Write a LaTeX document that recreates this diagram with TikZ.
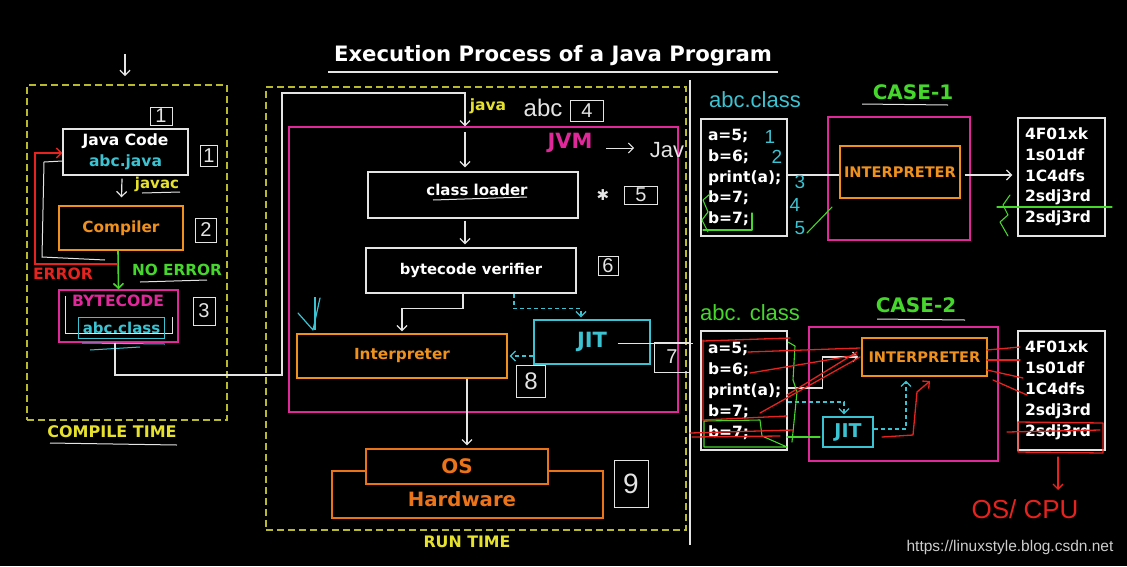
\documentclass[tikz,border=0pt]{standalone}
\usepackage{fontspec}
\setmainfont{DejaVu Sans}
\newfontfamily\hand{Liberation Sans}
\usetikzlibrary{arrows.meta,calc}
\definecolor{jorange}{RGB}{240,145,30}
\definecolor{jhw}{RGB}{235,115,25}
\definecolor{jmag}{RGB}{225,40,155}
\definecolor{jcyan}{RGB}{60,195,210}
\definecolor{jyel}{RGB}{230,225,45}
\definecolor{jdash}{RGB}{185,185,45}
\definecolor{jgreen}{RGB}{70,215,45}
\definecolor{jred}{RGB}{230,35,30}
\definecolor{jwhite}{RGB}{228,228,228}
\definecolor{jgray}{RGB}{205,205,205}
\newcommand\myfs[1]{\fontsize{#1}{#1}\selectfont}
\newcommand\myfsl[2]{\fontsize{#1}{#2}\selectfont}
\tikzset{
 bx/.style={draw=#1, line width=1.4pt, inner sep=0pt, fill=black},
 lbl/.style={font=\bfseries\myfs{#1}, inner sep=0pt},
 hw/.style={font=\hand\myfs{#1}, inner sep=0pt},
 numbox/.style={draw=jwhite, line width=0.9pt, inner sep=0pt, text=jwhite, font=\hand\myfs{20}},
 dbox/.style={draw=jdash, line width=1.3pt, dash pattern=on 7pt off 4pt, inner sep=0pt},
 tip/.style={-{Straight Barb[length=5pt,width=10pt]}},
 wline/.style={draw=jwhite, line width=1.2pt},
 cline/.style={draw=jcyan, line width=1.2pt, dash pattern=on 4pt off 3pt},
 rscrib/.style={draw=jred, line width=1.3pt, line cap=round, line join=round},
 gscrib/.style={draw=jgreen, line width=1.1pt, line cap=round, line join=round},
}
\begin{document}
\begin{tikzpicture}[x=1pt,y=-1pt]
\useasboundingbox (0,0) rectangle (1127,566);
\fill[black] (0,0) rectangle (1127,566);

% ---------- title
\node[lbl=21.2, text=white] (title) at (553,56) {Execution Process of a Java Program};
\coordinate (tul) at (328,72); \coordinate (tur) at (778,72);
\draw[wline] (tul) -- (tur);

% top arrow
\coordinate (ta) at (125,54); \coordinate (tb) at (125,76);
\draw[wline,tip] (ta) -- (tb);

% ---------- compile time
\node[dbox, minimum width=200, minimum height=335] (ct) at (127,252.5) {};
\node[lbl=16, text=jyel] (ctl) at (112,432) {COMPILE TIME};
\draw[wline, line width=1pt] (50,443) -- (177,445);

\node[bx=jwhite, minimum width=125, minimum height=46, align=center,
      font=\bfseries\myfsl{15.5}{21}] (java) at (125.5,152)
      {\textcolor{white}{Java Code}\\\textcolor{jcyan}{abc.java}};
\node[numbox, minimum width=22, minimum height=18] (n1a) at (161,116) {1};
\node[numbox, minimum width=17, minimum height=21] (n1) at (209,156) {1};

\node[lbl=15, text=jyel] (javac) at (157,184) {javac};
\draw[wline, line width=1pt] (142,193) -- (180,192);

\node[bx=jorange, minimum width=124, minimum height=44, lbl=15.3, text=jorange] (comp) at (121,228) {Compiler};
\node[numbox, minimum width=21, minimum height=24] (n2) at (206,230) {2};

\draw[wline,tip] ([xshift=-3.5pt,yshift=-3pt]java.south) -- ([xshift=0.5pt,yshift=8pt]comp.north);

% bytecode box
\node[bx=jmag, line width=1.2pt, minimum width=119, minimum height=52] (bcbox) at (118.5,316) {};
\draw[wline, line width=1pt] (65,296) -- (65,333) -- (172,333) -- (172,317);
\node[lbl=15.6, text=jmag] (bct) at (118,301) {BYTECODE};
\node[draw=jcyan, line width=1pt, minimum width=86, minimum height=21, lbl=15, text=jcyan] (abcc) at (121.5,328) {abc.class};
\draw[draw=jcyan, line width=1pt] (82,343) -- (165,344);
\draw[draw=jcyan, line width=1pt] (90,350) -- (140,347);
\node[numbox, minimum width=22, minimum height=28] (n3) at (204,311) {3};

\draw[draw=jgreen, line width=1.6pt, tip] ([xshift=-3pt]comp.south) -- (bcbox.north);
\node[lbl=15.3, text=jgreen] (noerr) at (177,270) {NO ERROR};
\draw[wline, line width=1pt] (140,282) -- (207,280);

\coordinate (errs) at (118,264);
\draw[draw=jred, line width=1.3pt, tip] (errs) -- (35,264) |- ([yshift=-1pt]java.west);
\coordinate (wes) at (105,260);
\draw[wline, line width=1pt] (wes) -- (42,257) -- (44,162) -- ([yshift=-9pt]java.west);
\node[lbl=15.6, text=jred] (err) at (63,274) {ERROR};

% ---------- run time
\node[dbox, minimum width=420, minimum height=443] (rt) at (476,308.5) {};
\node[lbl=15.8, text=jyel] (rtl) at (467,542) {RUN TIME};

\node[bx=jmag, fill=none, line width=1.2pt, minimum width=389, minimum height=285] (jvm) at (483.5,269.5) {};
\node[lbl=21, text=jmag] (jvml) at (570,143) {JVM};
\coordinate (ja1) at (606,148); \coordinate (ja2) at (634,148);
\draw[wline, line width=1pt, tip] (ja1) -- (ja2);
\node[hw=22, text=jwhite] (jav) at (667,150) {Jav};

\coordinate (jtop) at (465,93);
\draw[wline,tip] ([xshift=-3.5pt]bcbox.south) -- (115,375) -- (282,375) -- (282,93) -- (jtop) -- (jtop |- jvm.north);
\node[lbl=15.5, text=jyel] (javal) at (488,106) {java};
\node[hw=24, text=jwhite] (abcl) at (543,108) {abc};
\node[numbox, minimum width=33, minimum height=21] (n4) at (587,111) {4};

\node[bx=jwhite, minimum width=210, minimum height=46] (cl) at (473,195) {};
\node[lbl=15, text=white] (clt) at (477,190) {class loader};
\draw[wline, line width=1pt] (433,200) -- (527,197);
\node[font=\myfs{15}, text=jwhite, inner sep=0pt] (star) at (603,195) {✱};
\node[numbox, minimum width=33, minimum height=18] (n5) at (641,195) {5};

\node[bx=jwhite, minimum width=210, minimum height=45, lbl=14.8, text=white] (verifier) at (471,270.5) {bytecode verifier};
\node[numbox, minimum width=20, minimum height=19] (n6) at (608,266) {6};

\coordinate (a1) at (465,132);
\draw[wline,tip,shorten >=4pt] (a1) -- (a1 |- cl.north);
\draw[wline,tip,shorten >=3pt] ([xshift=-8pt,yshift=-2pt]cl.south) -- ([xshift=-6pt]verifier.north);

\node[bx=jorange, minimum width=210, minimum height=44, lbl=15.3, text=jorange] (interp) at (402,356) {Interpreter};
\node[bx=jcyan, minimum width=116, minimum height=44, lbl=21, text=jcyan] (jit) at (592,342) {JIT};
\node[numbox, minimum width=35, minimum height=30] (n7) at (672,357) {7};
\node[numbox, minimum width=29, minimum height=32, font=\hand\myfs{24}] (n8) at (531,381) {8};

\draw[wline,tip,shorten >=2pt] ([xshift=-8pt]verifier.south) -- ++(0,15) -| (interp.north);
\draw[cline,tip,shorten >=2pt] ([xshift=43pt]verifier.south) -- ++(0,15) -| ([xshift=-11pt]jit.north);
\draw[cline,tip,shorten >=2pt] (jit.west |- interp.east) -- (interp.east);
\draw[wline, line width=1pt] ([xshift=-33pt,yshift=-1pt]jit.east) -- (693,343);

\draw[draw=jcyan, line width=1.2pt, line cap=round, line join=round] (298,313) -- (313,330) -- (320,298);
\draw[draw=jcyan, line width=1.2pt] (315,297) -- (315,330);

\node[bx=jhw, line width=1.2pt, minimum width=271, minimum height=47] (hwbox) at (467.5,494.5) {};
\node[bx=jhw, line width=1.2pt, minimum width=182, minimum height=35, lbl=20, text=jhw] (os) at (457,466.5) {OS};
\node[lbl=19.7, text=jhw] (hwl) at (462,499) {Hardware};
\node[numbox, minimum width=34, minimum height=47, font=\hand\myfs{28}] (n9) at (631,484) {9};

\coordinate (ia) at (467,379);
\draw[wline,tip,shorten >=3pt] (ia) -- (ia |- os.north);

% divider
\coordinate (dv1) at (690,80); \coordinate (dv2) at (690,545);
\draw[wline, line width=1.5pt] (dv1) -- (dv2);

% ---------- CASE-1
\node[hw=22, text=jcyan] (c1abc) at (755,100) {abc.class};
\node[lbl=20, text=jgreen] (case1) at (913,92) {CASE-1};
\draw[wline, line width=1pt] (862,104) -- (948,105);

\node[bx=jwhite, minimum height=117, text width=72, inner xsep=7pt, align=left,
      font=\bfseries\myfsl{15.5}{20.7}, text=white] (c1code) at (744,177.5)
      {a=5;\\b=6;\\print(a);\\b=7;\\b=7;};
\node[bx=jmag, fill=none, line width=1.2pt, minimum width=142, minimum height=123] (c1mag) at (899,178.5) {};
\node[bx=jorange, line width=1.2pt, minimum width=120, minimum height=52, lbl=14.6, text=jorange] (c1int) at (900,172) {INTERPRETER};
\node[bx=jwhite, minimum height=118, text width=73, inner xsep=7pt, align=left,
      font=\bfseries\myfsl{15.5}{20.7}, text=white] (c1out) at (1061.5,177)
      {4F01xk\\1s01df\\1C4dfs\\2sdj3rd\\2sdj3rd};

\draw[wline] ([yshift=2.5pt]c1code.east) -- ([yshift=-3pt]c1int.west);
\draw[wline,tip] ([xshift=4pt,yshift=-3pt]c1int.east) -- ([xshift=-5pt,yshift=2pt]c1out.west);

\node[hw=19, text=jcyan] (k1) at (770,137) {1};
\node[hw=19, text=jcyan] (k2) at (777,157) {2};
\node[hw=19, text=jcyan] (k3) at (800,182) {3};
\node[hw=19, text=jcyan] (k4) at (795,205) {4};
\node[hw=19, text=jcyan] (k5) at (800,228) {5};

\draw[gscrib] (703,230) -- (752,230) -- (752,213);
\draw[gscrib] (710,194) -- (703,200) -- (708,212) -- (702,220) -- (708,232);
\draw[gscrib] (807,233) -- (832,207);
\draw[gscrib] (997,207) -- (1112,207);
\draw[gscrib] (1010,195) -- (1003,205) -- (1008,215) -- (1000,222) -- (1008,236);

% ---------- CASE-2
\node[hw=22, text=jgreen] (c2abc) at (750,313) {abc. class};
\node[lbl=20, text=jgreen] (case2) at (916,305) {CASE-2};
\draw[wline, line width=1pt] (877,319) -- (965,320);

\node[bx=jwhite, minimum height=119, text width=72, inner xsep=7pt, align=left,
      font=\bfseries\myfsl{15.5}{21}, text=white] (c2code) at (744,390.5)
      {a=5;\\b=6;\\print(a);\\b=7;\\b=7;};
\node[bx=jmag, fill=none, line width=1.2pt, minimum width=189, minimum height=134] (c2mag) at (903.5,394) {};
\node[bx=jorange, line width=1.2pt, minimum width=125, minimum height=38, lbl=14.6, text=jorange] (c2int) at (924.5,357) {INTERPRETER};
\node[bx=jcyan, line width=1.2pt, minimum width=50, minimum height=30, lbl=19, text=jcyan] (c2jit) at (848,432) {JIT};
\node[bx=jwhite, minimum height=119, text width=73, inner xsep=7pt, align=left,
      font=\bfseries\myfsl{15.5}{21}, text=white] (c2out) at (1061.5,390.5)
      {4F01xk\\1s01df\\1C4dfs\\2sdj3rd\\2sdj3rd};

\draw[wline,tip,shorten >=3pt] ([yshift=2.5pt]c2code.east) -- ++(35,0) |- (c2int.west);
\draw[cline,tip,shorten >=2pt] ([yshift=-11.5pt]c2code.east) -| ([xshift=-4pt]c2jit.north);
\draw[cline,tip,shorten >=4pt] ([yshift=3pt]c2jit.east) -| ([xshift=-18.5pt]c2int.south);

% green scribbles case 2
\draw[gscrib] (704,421) -- (760,420) -- (762,436) -- (787,447) -- (704,447) -- cycle;
\draw[gscrib] (787,437) -- (820,437);
\draw[gscrib] (788,342) -- (795,346) -- (793,380) -- (797,392) -- (792,442);

% red scribbles case 2
\draw[rscrib] (703,341) -- (790,338);
\draw[rscrib] (748,352) -- (860,348);
\draw[rscrib] (750,373) -- (857,355);
\draw[rscrib] (787,395) -- (857,352);
\draw[rscrib] (760,413) -- (860,357);
\draw[rscrib] (703,340) -- (703,420) -- (787,416);
\draw[rscrib] (690,433) -- (793,430);
\draw[rscrib] (692,437) -- (780,436);
\draw[rscrib] (987,350) -- (1020,347);
\draw[rscrib] (987,360) -- (1020,360);
\draw[rscrib] (987,370) -- (1023,378);
\draw[rscrib] (993,380) -- (1027,395);
\draw[rscrib] (1007,432) -- (1100,430);
\draw[rscrib] (1018,422) -- (1103,423) -- (1103,453) -- (1018,452) -- cycle;
\draw[rscrib, tip] (882,437) -- (913,435) -- (917,392) -- (930,381);
\coordinate (cpu1) at (1058,457); \coordinate (cpu2) at (1058,490);
\draw[rscrib, tip] (cpu1) -- (cpu2);
\node[hw=26, text=jred] (oscpu) at (1025,509) {OS/ CPU};

% watermark
\node[hw=15.5, text=jgray] (wm) at (1010,547) {https://linuxstyle.blog.csdn.net};
\end{tikzpicture}
\end{document}
